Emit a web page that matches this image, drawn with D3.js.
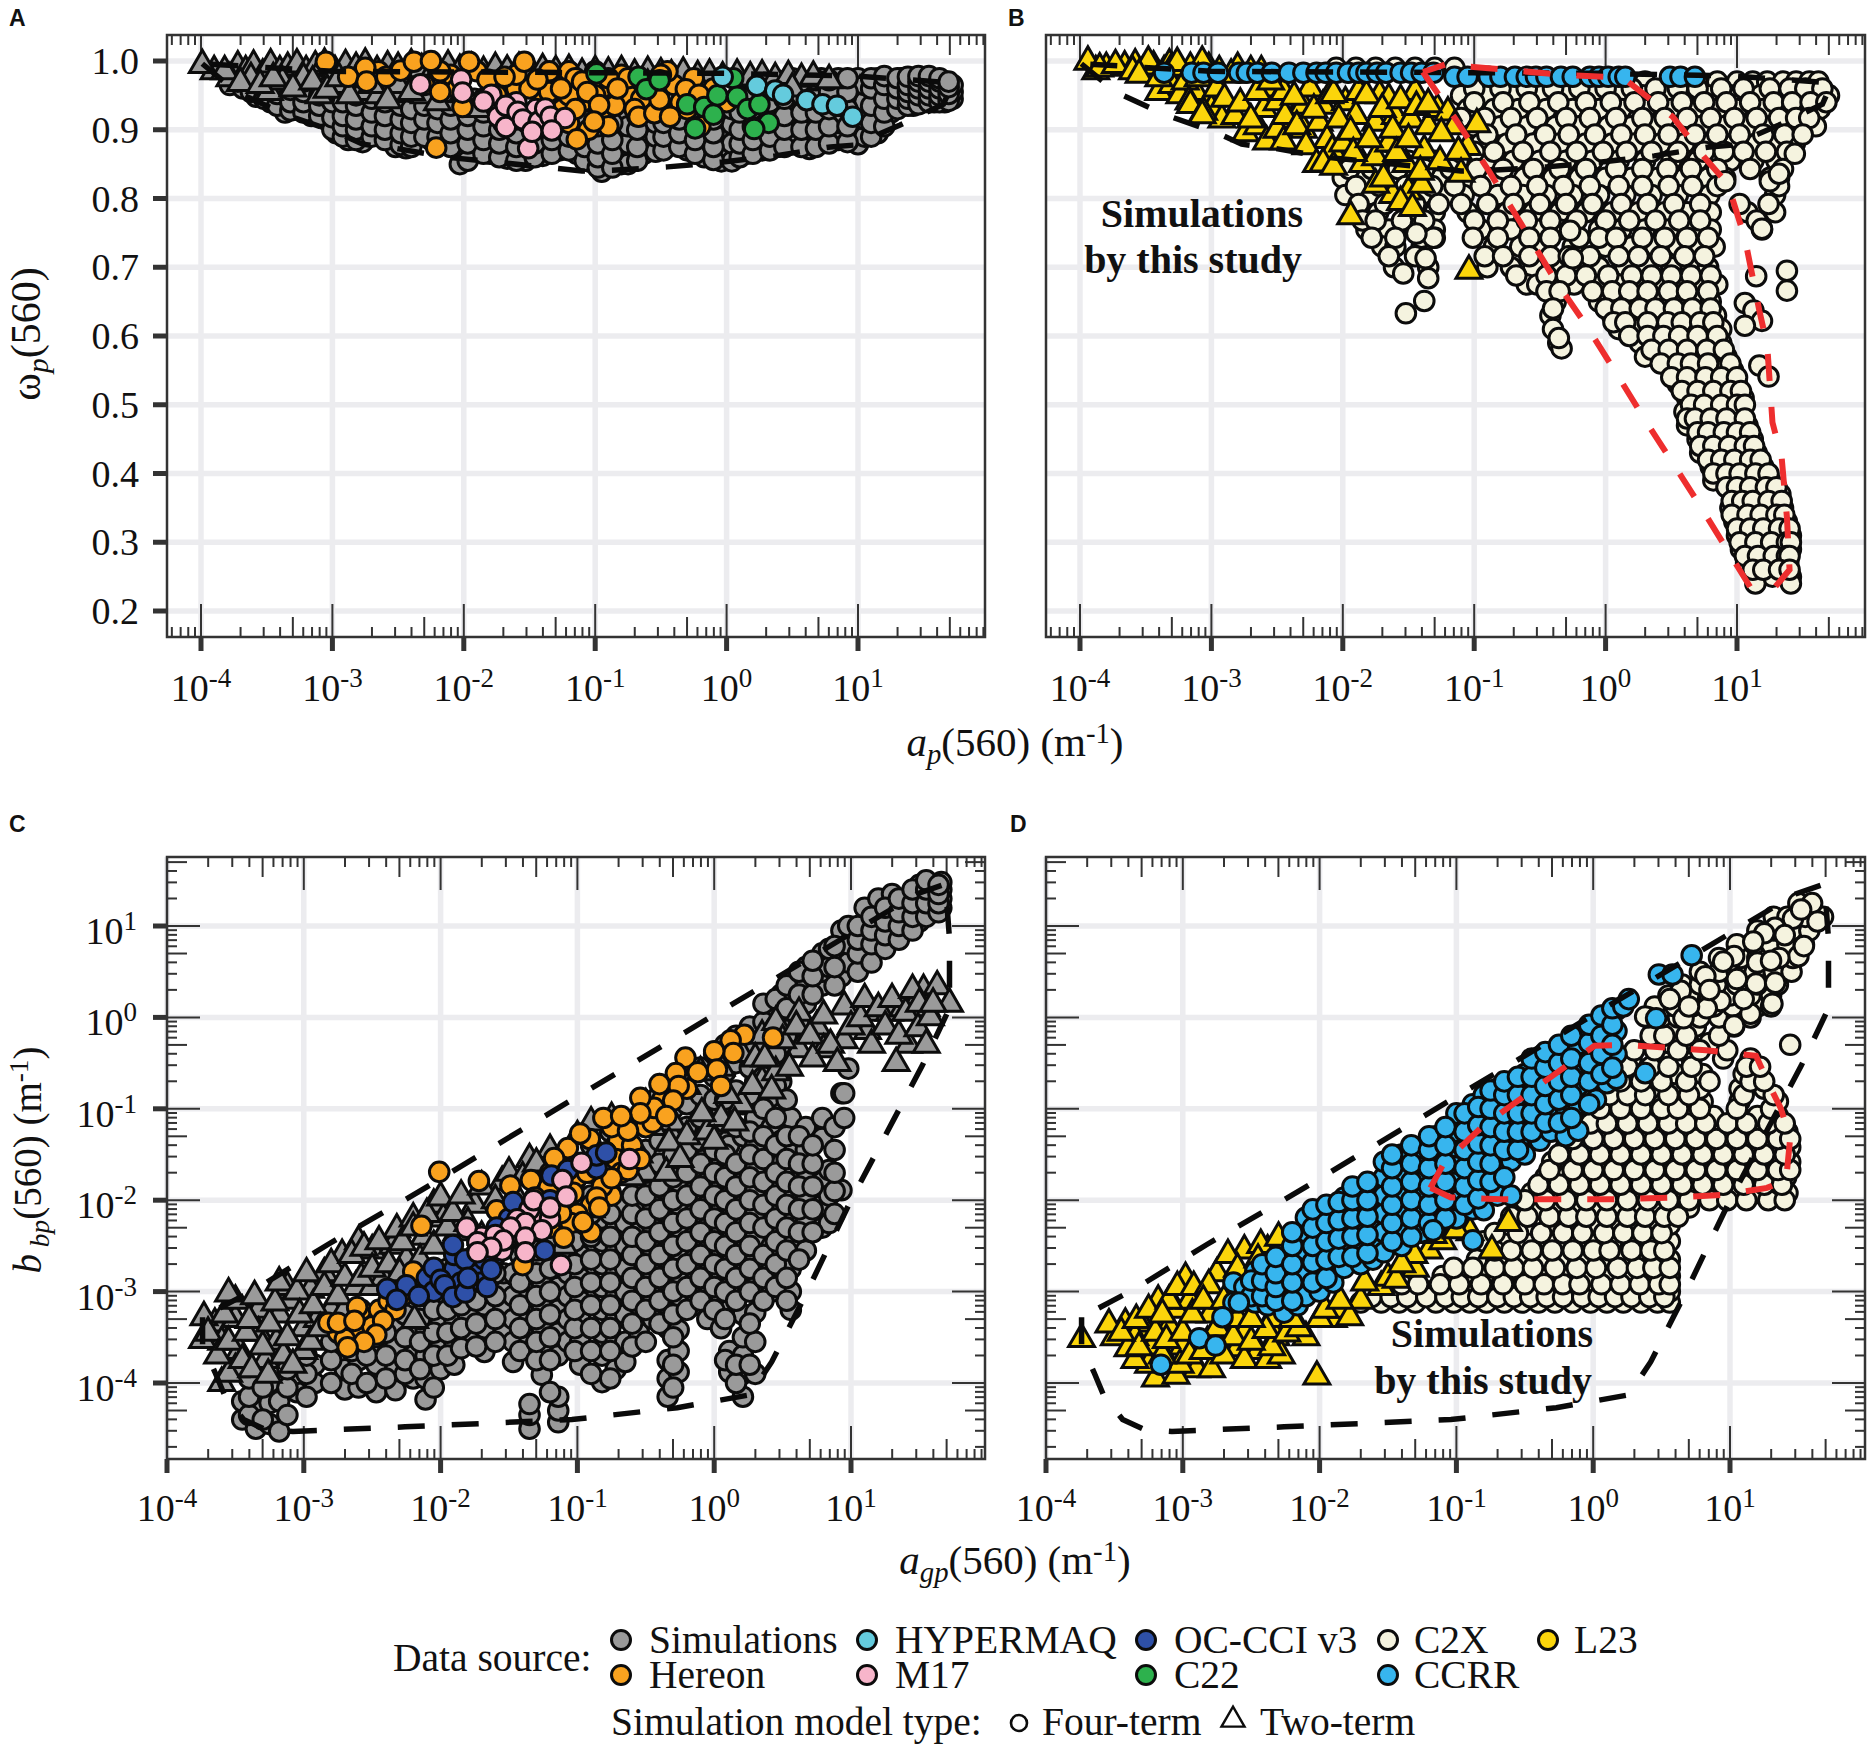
<!DOCTYPE html>
<html><head><meta charset="utf-8">
<script src="https://cdnjs.cloudflare.com/ajax/libs/d3/7.8.5/d3.min.js"></script>
<style>html,body{margin:0;padding:0;background:#fff}svg{display:block}text{font-family:"Liberation Serif",serif;fill:#111}</style>
</head><body><svg id="c" width="1872" height="1752"></svg>
<script>
// values: log10(x) first; y is linear in A/B, log10 in C/D
const col=a=>a.flatMap(([x,ys])=>ys.map(y=>[x,y]));
const row=a=>a.flatMap(([y,xs])=>xs.map(x=>[x,y]));

const aGray=col([[-3.78,[.975,.965]],[-3.68,[.96,.978]],[-3.58,[.948,.968,.982]],[-3.47,[.94,.96,.975]],[-3.36,[.925,.945,.965,.98]],[-3.27,[.93,.95,.972]],[-3.16,[.92,.94,.96,.98]],[-3.05,[.915,.935,.955,.975]],[-2.97,[.895,.91,.93,.95,.97]],[-2.88,[.885,.905,.925,.945,.965]],[-2.77,[.882,.9,.93,.955]],[-2.66,[.895,.915,.94,.965]],[-2.52,[.875,.89,.91,.935,.96]],[-2.44,[.873,.895,.925,.95]],[-2.36,[.9,.915,.94,.965]],[-2.25,[.885,.905,.93,.955]],[-2.16,[.89,.91,.94,.965]],[-2.03,[.85,.875,.9,.925,.95]],[-1.92,[.875,.895,.92,.945]],[-1.8,[.865,.885,.91,.935]],[-1.67,[.858,.88,.905,.93]],[-1.53,[.855,.87,.895,.92]],[-1.4,[.862,.885,.91]],[-1.27,[.87,.89,.915]],[-1.14,[.865,.885,.905]],[-1.03,[.853,.875,.9]],[-.95,[.839,.87,.89,.915]],[-.8,[.85,.875,.897,.92]],[-.75,[.85,.88,.905]],[-.63,[.865,.897,.92]],[-.54,[.868,.89,.91]],[-.41,[.883,.9]],[-.3,[.87,.89,.91,.93]],[-.17,[.86,.885,.905,.92]],[-.04,[.854,.875,.9,.925]],[.04,[.854,.88,.908,.93]],[.15,[.865,.89,.915,.94,.96]],[.27,[.87,.895,.92,.945,.965]],[.38,[.875,.9,.925,.95,.972]],[.5,[.88,.905,.93,.955,.975]],[.63,[.872,.895,.92,.945,.97]],[.72,[.88,.905,.93,.955,.975]],[.85,[.885,.91,.935,.96,.975]],[1,[.879,.905,.93,.955,.975]],[1.05,[.89,.915,.941,.965]],[1.15,[.895,.908,.93,.955,.975]],[1.25,[.925,.94,.955,.97]],[1.33,[.935,.95,.965,.975]],[1.42,[.935,.945,.96,.975]],[1.5,[.94,.95,.965,.975]],[1.58,[.94,.955,.97]],[1.66,[.94,.95,.96,.97]],[1.72,[.945,.955,.965]]]);
const aGrayMore=col([[-3.72,[.982,.97]],[-3.62,[.955,.97]],[-3.52,[.945,.96,.978]],[-3.42,[.935,.952,.968]],[-3.32,[.928,.94,.958,.975]],[-3.22,[.925,.94,.955,.97]],[-3.1,[.92,.935,.95,.965]],[-3,[.9,.918,.94,.96]],[-2.92,[.89,.905,.92,.94,.96]],[-2.82,[.885,.9,.915,.935,.95]],[-2.7,[.89,.905,.925,.945]],[-2.6,[.885,.9,.92,.94,.955]],[-2.48,[.878,.895,.915,.935,.955]],[-2.4,[.875,.89,.91,.93,.955]],[-2.3,[.89,.915,.935,.955]],[-2.2,[.89,.91,.93,.95]],[-2.1,[.875,.895,.915,.935,.955]],[-1.97,[.855,.88,.9,.92,.94]],[-1.85,[.865,.885,.905,.925,.945]],[-1.73,[.86,.88,.9,.92,.94]],[-1.6,[.855,.875,.895,.915,.935]],[-1.46,[.86,.88,.9,.92]],[-1.33,[.865,.885,.905,.925]],[-1.2,[.87,.89,.91]],[-1.08,[.855,.875,.895,.915]],[-.98,[.845,.86,.88,.905]],[-.87,[.845,.865,.885,.91]],[-.68,[.855,.875,.9,.92]],[-.48,[.87,.89,.91,.93]],[-.36,[.875,.895,.915,.935]],[-.24,[.865,.885,.905,.925]],[-.1,[.856,.875,.895,.915,.935]],[.1,[.86,.88,.9,.925,.95]],[.2,[.865,.885,.905,.93,.955]],[.33,[.87,.89,.915,.94,.96]],[.44,[.875,.9,.92,.945,.965]],[.57,[.875,.9,.925,.95,.97]],[.68,[.875,.9,.925,.95,.972]],[.78,[.88,.905,.93,.955,.972]],[.92,[.882,.905,.93,.955,.975]],[1.1,[.89,.91,.935,.96,.975]],[1.2,[.905,.925,.945,.965,.978]],[1.3,[.93,.945,.96,.975]],[1.38,[.935,.945,.955,.965,.977]],[1.46,[.937,.95,.96,.97,.978]],[1.54,[.94,.95,.96,.97,.978]],[1.62,[.94,.95,.96,.97,.975]],[1.69,[.942,.952,.962,.97]]]);
const aTri=[[-3.72,.992],[-3.66,.985],[-3.6,.993],[-3.53,.98],[-3.47,.995],[-3.4,.985],[-3.34,.99],[-3.27,.995],[-3.2,.985],[-3.13,.992],[-3.06,.996],[-2.98,.985],[-2.9,.994],[-2.82,.99],[-2.75,.996],[-2.66,.985],[-2.58,.992],[-2.5,.99],[-2.4,.995],[-2.32,.988],[-2.22,.99],[-2.12,.993],[-2.03,.987],[-1.94,.99],[-1.85,.984],[-1.76,.99],[-1.67,.986],[-1.58,.99],[-1.48,.983],[-1.4,.988],[-1.3,.985],[-1.2,.987],[-1.1,.981],[-1,.985],[-.9,.983],[-.8,.985],[-.7,.98],[-.6,.984],[-.5,.982],[-.42,.979],[-.33,.983],[-.22,.978],[-.13,.98],[-.03,.976],[.08,.98],[.18,.976],[.27,.979],[.37,.975],[.47,.978],[.57,.974],[.66,.977],[.78,.972],[-3.9,.985],[-3.78,.975],[-3.62,.975],[-3.48,.955],[-3.38,.97],[-3.22,.975],[-3.1,.95],[-2.98,.965],[-2.78,.955],[-2.65,.95],[-2.5,.965],[-2.3,.95],[-2.1,.965],[-1.8,.96],[-1.6,.965],[-1.4,.96],[-1,.96],[-.6,.965],[-.2,.96],[.2,.955],[.5,.96],[-3.99,.994],[-3.82,.985],[-3.7,.968],[-3.55,.965],[-3.45,.975],[-3.3,.96],[-3.15,.97],[-3.04,.958],[-2.95,.975],[-2.87,.95],[-2.7,.965],[-2.58,.943],[-2.4,.955],[-2.2,.94],[-2,.955],[-1.9,.93]];
const aOrange=[[-2.21,.874],[-3.05,.999],[-2.65,.985],[-2.3,.965],[-2.1,.98],[-1.9,.985],[-1.35,.985],[-1.2,.985],[-1,.985],[-.8,.98],[-1.3,.935],[-1.2,.91],[-1.1,.94],[-.9,.93],[-.95,.96],[-1.15,.975],[-.75,.95],[-.6,.96],[-.4,.965],[-.35,.94],[-.25,.975],[-1.75,.95],[-1.6,.96],[-.1,.96],[0,.94],[-1.4,.94],[-1.25,.93],[-1.05,.9],[-.9,.905],[-.15,.93],[-1.5,.96],[-1.35,.955],[-1.2,.95],[-1.1,.97],[-1,.95],[-.9,.975],[-.75,.975],[-.65,.945],[-.45,.985],[-.7,.93],[-.5,.98],[-.3,.93],[-.2,.905],[-1.15,.93],[-.85,.935],[-1.6,.98],[-2.05,.96],[-2.18,.985],[-2.75,.99],[-2.88,.977],[-2.74,.97],[-2.59,.977],[-2.48,.986],[-2.38,.999],[-2.25,1],[-2.18,.955],[-1.96,.999],[-2.01,.933],[-1.82,.973],[-1.69,.977],[-1.54,.999],[-1.44,.973],[-1.26,.96],[-1.14,.886],[-1.06,.955],[-.97,.936],[-.83,.96],[-1.01,.912],[-.67,.919],[-.55,.924],[-.43,.919],[-.51,.944],[-.31,.959],[-.21,.951]];
const aPink=[[-1.6,.94],[-1.7,.91],[-1.45,.93],[-1.52,.91],[-2.33,.966],[-2.02,.973],[-2.01,.954],[-1.79,.951],[-1.85,.941],[-1.74,.919],[-1.68,.935],[-1.68,.904],[-1.59,.926],[-1.55,.915],[-1.43,.912],[-1.51,.873],[-1.48,.897],[-1.38,.931],[-1.34,.919],[-1.23,.917],[-1.33,.899]];
const aGreen=[[-.99,.982],[-.67,.977],[-.61,.959],[-.51,.972],[-.3,.937],[-.17,.933],[-.24,.902],[-.1,.922],[-.07,.95],[.05,.975],[.08,.948],[.16,.93],[.32,.91],[.25,.937],[.21,.901]];
const aCyan=[[-.03,.977],[.23,.964],[.37,.957],[.43,.951],[.61,.943],[.73,.937],[.84,.935],[.96,.919]];
const abLower=[[-3.99,.996],[-3.73,.955],[-3.34,.921],[-2.95,.895],[-2.77,.879],[-2.52,.873],[-2.13,.86],[-1.71,.852],[-1.1,.84],[-.87,.841],[-.45,.846],[-.03,.853],[.37,.862],[.79,.875],[.99,.878],[1.14,.892],[1.32,.907],[1.65,.937],[1.72,.968],[1,.978],[0,.982],[-3,.985],[-3.99,.996]];

const bCream=row([[.99,[-2.05,-1.9,-1.75,-1.6,-1.45,-1.3,-1.15]],[.97,[-.9,-.7,-.5,-.3,-.1,.1,.3,.5,.7,.85,1,1.12,1.23,1.35,1.45,1.55,1.62]],[.95,[-1.1,-.9,-.7,-.5,-.3,-.1,.1,.28,.45,.6,.78,.95,1.02,1.18,1.32,1.46,1.58,1.7]],[.93,[-1.05,-.85,-.66,-.45,-.25,-.05,.12,.3,.5,.68,.85,1,1.2,1.34,1.5,1.63]],[.905,[-1,-.8,-.6,-.38,-.2,.02,.2,.38,.55,.72,.9,1.08,1.25,1.4,1.48,1.6]],[.88,[-.95,-.75,-.55,-.35,-.15,.05,.22,.42,.6,.8,.98,1.15,1.3,1.44]],[.855,[-1.9,-1.7,-1.5,-1.3,-1.12,-.9,-.7,-.5,-.3,-.1,.1,.3,.5,.7,.95,1.125,1.3]],[.83,[-2,-1.85,-1.65,-1.45,-1.25,-1.05,-.85,-.62,-.4,-.2,0,.2,.4,.6,.78,.91,1.25,1.32]],[.805,[-1.98,-1.8,-1.6,-1.4,-1.22,-1.08,-.82,-.63,-.45,-.25,-.05,.15,.35,.55,.79,1.29]],[.78,[-1.9,-1.73,-1.5,-1.3,-1.05,-.75,-.55,-.35,-.15,.05,.25,.45,.62,.8,1.08,1.29]],[.755,[-1.82,-1.65,-1.45,-1.3,-.95,-.72,-.53,-.35,-.27,-.05,.12,.3,.48,.65,.8,1.19]],[.73,[-1.7,-1.6,-1.4,-.85,-.65,-.5,-.25,0,.2,.38,.55,.7,.83]],[.7,[-1.61,-1.35,-.9,-.72,-.55,-.38,-.23,-.05,.15,.32,.5,.65,.78]],[.675,[-.6,-.52,-.38,-.24,-.03,.1,.28,.42,.58,.72,.85]],[.65,[-.38,-.05,.08,.25,.4,.55,.7,.8]],[.63,[-.42,.05,.2,.3,.45,.6,.72,.84]],[.61,[-.4,.1,.25,.4,.5,.65,.78,.88]],[.59,[-.36,.26,.38,.5,.62,.75,.88]],[.57,[.3,.45,.58,.7,.82,.92]],[.55,[.5,.6,.72,.85,.97]],[.53,[.55,.68,.8,.9,1]],[.51,[.62,.72,.84,.95,1.05]],[.49,[.6,.7,.8,.92,1.03]],[.47,[.62,.74,.86,.98,1.08]],[.45,[.7,.8,.92,1.02,1.12]],[.43,[.72,.85,.95,1.05,1.15]],[.41,[.8,.9,1,1.1,1.2]],[.39,[.82,.93,1.03,1.13,1.25]],[.37,[.98,1.05,1.18,1.28,1.33]],[.35,[.95,1.06,1.15,1.27,1.35]],[.33,[.98,1.08,1.2,1.3,1.38]],[.31,[1,1.1,1.22,1.34,1.41]],[.29,[1.03,1.12,1.24,1.36,1.41]],[.27,[1.07,1.18,1.3,1.39]],[.25,[1.14,1.27,1.41]],[.24,[1.14,1.41]]]);
const bCreamMore=row([[.96,[-1,-.8,-.6,-.4,-.2,0,.2,.38,.55,.7,.88,1.05,1.25,1.4,1.52,1.65]],[.94,[-1,-.78,-.58,-.36,-.15,.04,.22,.4,.58,.75,.92,1.1,1.28,1.42,1.56,1.68]],[.917,[-1.1,-.92,-.72,-.52,-.3,-.12,.08,.28,.45,.62,.8,.98,1.15,1.32,1.45,1.55]],[.893,[-.9,-.68,-.46,-.28,-.08,.12,.3,.48,.68,.85,1.02,1.2,1.36,1.5]],[.868,[-1,-.85,-.63,-.42,-.22,-.02,.16,.35,.55,.75,.9,1.05,1.22,1.38]],[.843,[-1.95,-1.78,-1.58,-1.38,-1.18,-.98,-.78,-.55,-.35,-.15,.08,.28,.47,.65,.85,1.1,1.35]],[.818,[-1.9,-1.72,-1.52,-1.32,-1.15,-.95,-.72,-.52,-.32,-.12,.1,.28,.48,.66,.85,1.32]],[.792,[-1.88,-1.68,-1.45,-1.27,-1.1,-.9,-.7,-.5,-.3,-.1,.12,.32,.52,.72,1.02,1.24]],[.768,[-1.85,-1.75,-1.55,-1.38,-1,-.82,-.6,-.42,-.22,0,.18,.38,.56,.72,1.15]],[.743,[-1.78,-1.6,-1.4,-1.3,-1.01,-.82,-.58,-.42,-.2,-.05,.08,.28,.45,.62,.78]],[.716,[-1.65,-1.45,-.92,-.78,-.58,-.42,-.28,-.12,.1,.25,.42,.6,.75]],[.688,[-.68,-.45,-.3,-.15,.02,.2,.35,.5,.65,.8]],[.665,[-.45,-.35,-.1,.05,.18,.32,.48,.62,.78]],[.64,[-.4,0,.12,.26,.38,.52,.66,.8]],[.62,[.06,.15,.32,.47,.58,.72,.82]],[.6,[.18,.32,.44,.56,.7,.85]],[.58,[.35,.48,.62,.77,.9]],[.56,[.42,.55,.65,.78,.95]],[.54,[.5,.62,.76,.88,1]],[.52,[.58,.7,.82,.95,1.03]],[.5,[.65,.75,.88,1,1.06]],[.48,[.62,.68,.8,.92,1.06]],[.46,[.7,.78,.9,1,1.1]],[.44,[.72,.82,.94,1.06,1.13]],[.42,[.78,.88,.98,1.1,1.18]],[.4,[.82,.92,1.02,1.14,1.24]],[.38,[.92,1,1.1,1.22,1.3]],[.36,[.96,1.04,1.12,1.24,1.34]],[.34,[.96,1.08,1.18,1.3,1.36]],[.32,[1,1.1,1.2,1.32,1.4]],[.3,[1.02,1.14,1.26,1.38,1.41]],[.28,[1.06,1.16,1.28,1.38,1.4]],[.26,[1.12,1.2,1.32,1.4]]]);
const bCreamLone=[[-1.52,.633],[-1.38,.651],[-1.35,.684],[-1.54,.691],[-1.37,.713],[-1.31,.743],[-1.44,.749],[-.335,.582],[-.356,.597],[-.27,.753],[-.25,.713],[1.38,.695],[1.38,.666],[1.146,.687],[1.06,.648],[1.125,.637],[1.19,.622],[1.06,.615],[1.17,.557],[1.24,.541],[.91,.825],[1.19,.756],[1.25,.825],[1.32,.836],[1.44,.865]];
const bYellow=[[-3.88,.985],[-3.8,.99],[-3.66,.992],[-3.58,.995],[-3.52,.985],[-3.44,.992],[-3.36,.985],[-3.32,.995],[-3.24,.985],[-3.16,.99],[-3.02,.99],[-2.94,.985],[-2.8,.99],[-2.62,.985],[-3.4,.955],[-3.3,.965],[-3.24,.95],[-3.12,.955],[-3,.945],[-3,.93],[-2.92,.915],[-2.82,.92],[-2.74,.895],[-2.65,.905],[-2.6,.93],[-2.58,.96],[-2.5,.94],[-2.45,.955],[-2.38,.915],[-2.3,.935],[-2.3,.9],[-2.25,.96],[-2.18,.91],[-2.12,.885],[-2.15,.935],[-2.08,.87],[-1.98,.94],[-1.9,.92],[-1.88,.955],[-1.85,.85],[-1.75,.91],[-1.75,.86],[-1.72,.95],[-1.65,.88],[-1.65,.945],[-1.6,.92],[-1.52,.85],[-1.48,.915],[-1.45,.955],[-1.38,.87],[-1.35,.905],[-1.28,.93],[-1.2,.925],[-1.15,.905],[-1.05,.875],[-1.5,.81],[-1.62,.805],[-1.75,.82],[-1.4,.82],[-3.94,.999],[-3.85,.989],[-3.73,.994],[-3.6,.985],[-3.48,.999],[-3.55,.98],[-3.4,.975],[-3.3,.99],[-3.26,.997],[-3.2,.97],[-3.07,.999],[-3.1,.975],[-2.96,.96],[-2.85,.98],[-2.7,.985],[-3.17,.941],[-3.16,.936],[-3.06,.926],[-3.07,.921],[-2.9,.945],[-2.78,.938],[-2.65,.955],[-2.7,.915],[-2.55,.97],[-2.58,.883],[-2.5,.9],[-2.45,.883],[-2.44,.92],[-2.37,.948],[-2.35,.905],[-2.28,.876],[-2.22,.929],[-2.2,.85],[-2.15,.851],[-2.1,.95],[-2.07,.846],[-2.07,.952],[-2.03,.915],[-2,.88],[-1.94,.897],[-1.92,.866],[-1.82,.95],[-1.8,.886],[-1.7,.93],[-1.69,.829],[-1.62,.9],[-1.59,.866],[-1.56,.943],[-1.56,.795],[-1.5,.886],[-1.47,.786],[-1.44,.933],[-1.41,.839],[-1.35,.937],[-1.26,.854],[-1.25,.895],[-1.12,.868],[-1.1,.836],[-.98,.908],[-1.94,.774],[-1.04,.695]];
const bBlue=row([[.983,[-3.36,-3.15,-3.06,-2.95,-2.79,-2.73,-2.65,-2.54,-2.41,-2.3,-2.2,-2.13,-2.05,-1.96,-1.88,-1.82,-1.74,-1.67,-1.56,-1.48,-1.4,-1.31]],[.977,[-1.15,-1.05,-.89,-.8,-.69,-.6,-.53,-.45,-.34,-.25,-.12,-.05,.02,.1,.15,.49,.57,.68]]]);
const bRed=[[-1.39,.984],[-1.14,.915],[-.885,.839],[-.61,.753],[-.38,.68],[-.145,.615],[.09,.543],[.3,.478],[.68,.365],[.89,.3],[1.1,.235],[1.29,.235],[1.4,.26],[1.38,.336],[1.34,.423],[1.27,.474],[1.23,.586],[1.17,.637],[1.06,.742],[.93,.821],[.765,.857],[.51,.919],[.17,.97],[0,.977],[-.335,.98],[-.8,.988],[-1.22,.995],[-1.39,.984]];

const cGray=col([[-3.45,[-4.4,-4.2]],[-3.35,[-4.5,-4.3,-4.1]],[-3.25,[-4.45,-4.22,-4]],[-3.18,[-4.53,-4.2]],[-3.05,[-4.1,-3.9]],[-2.92,[-4,-3.8]],[-2.7,[-4.07,-3.85]],[-2.6,[-4.05,-3.75,-3.6]],[-2.47,[-4.1,-3.8,-3.5]],[-2.33,[-4.08,-3.85,-3.6,-3.35]],[-2.2,[-3.95,-3.7,-3.45]],[-2.11,[-4.18,-3.95,-3.7,-3.4]],[-2,[-3.85,-3.6,-3.3,-3.1]],[-1.9,[-3.8,-3.55,-3.3,-3.05]],[-1.8,[-3.5,-3.25,-3]],[-1.68,[-3.66,-3.4,-3.15,-2.95]],[-1.54,[-3.47,-3.2,-3,-2.8]],[-1.47,[-3.77,-3.55,-3.3,-3.05,-2.8]],[-1.35,[-4.5,-4.35,-4.23,-3.5,-3.25,-3,-2.75]],[-1.26,[-3.91,-3.66,-3.4,-3.15,-2.9,-2.7]],[-1.14,[-4.43,-4.3,-4.15,-3.7,-3.45,-3.2,-2.95,-2.7]],[-1.07,[-3.55,-3.3,-3.05,-2.8,-2.55]],[-.98,[-3.8,-3.55,-3.3,-3.1,-2.85,-2.6,-2.35]],[-.82,[-3.99,-3.7,-3.45,-3.2,-2.95,-2.7,-2.45,-2.2]],[-.72,[-3.85,-3.55,-3.3,-3.05,-2.8,-2.55,-2.3]],[-.65,[-3.77,-3.55,-3.25,-3,-2.75,-2.5,-2.25,-2.05]],[-.55,[-3.45,-3.15,-2.85,-2.6,-2.35,-2.1,-1.9]],[-.45,[-3.3,-3.05,-2.8,-2.55,-2.3,-2.05,-1.8]],[-.34,[-4.15,-3.95,-3.75,-3.4,-3.15,-2.9,-2.65,-2.4,-2.15,-1.9,-1.65]],[-.26,[-3.88,-3.65,-3.42,-3.05,-2.8,-2.55,-2.3,-2.05,-1.8,-1.55]],[-.15,[-3.15,-2.9,-2.65,-2.4,-2.15,-1.9,-1.65,-1.4]],[-.05,[-3.3,-3.05,-2.8,-2.55,-2.3,-2.05,-1.8,-1.5,-1.2]],[.05,[-3.4,-3.1,-2.85,-2.6,-2.35,-2.1,-1.85,-1.55,-1.25,-1]],[.11,[-3.88,-3.65,-3.2,-2.95,-2.7,-2.45,-2.2,-1.95,-1.7,-1.4,-1.1]],[.21,[-4.15,-3.9,-3.7,-3.5,-3.25,-2.8,-2.55,-2.3,-2.05,-1.8,-1.3,-.95]],[.3,[-3.9,-3.55,-3.23,-2.95,-2.65,-2.4,-2.15,-1.9,-1.65,-1.4,-1.1,-.7,-.3]],[.42,[-3,-2.75,-2.5,-2.25,-2,-1.75,-1.5,-1.2,-.9,-.5,-.2,.1]],[.49,[-2.9,-2.6,-2.35,-2.1,-1.85,-1.6,-1.35,-1.05,-.7,-.3,0,.25]],[.56,[-3.2,-3,-2.75,-2.45,-2.2,-1.95,-1.67,-1.4,-1.1,-.1,.2,.4]],[.67,[-2.55,-2.25,-2,-1.67,-1.45,-1.2,.15,.35,.55]],[.79,[-2.3,-2.05,-1.8,-1.32,-1.1,.35,.5,.7]],[.84,[-2.25,-1.95,-1.67,.55,.75]],[.93,[-1.89,-.83,.45,.65,.8,.95]],[.98,[-.56,.6,.8,1]],[1.1,[.7,.85,1.05,1.2]],[1.2,[.8,.95,1.1,1.3]],[1.3,[.9,1.05,1.2,1.35]],[1.4,[1,1.15,1.3]],[1.5,[1.05,1.2,1.35,1.45]],[1.6,[1.15,1.3,1.42]],[1.66,[1.2,1.3,1.4,1.48]]]);
const cGrayMore=col([[-3.4,[-4.35,-4.15,-3.95]],[-3.3,[-4.4,-4.05]],[-3.12,[-4.35,-4.05,-3.85]],[-2.98,[-4.15,-3.9,-3.7]],[-2.8,[-4,-3.75,-3.55]],[-2.65,[-3.9,-3.65,-3.45]],[-2.54,[-4,-3.7,-3.4]],[-2.4,[-3.95,-3.7,-3.45,-3.25]],[-2.26,[-3.9,-3.75,-3.5,-3.25]],[-2.15,[-3.85,-3.55,-3.3,-3.05]],[-2.05,[-4.05,-3.7,-3.45,-3.2,-2.95]],[-1.95,[-3.7,-3.45,-3.2,-2.95,-2.75]],[-1.85,[-3.62,-3.4,-3.15,-2.9,-2.65]],[-1.74,[-3.6,-3.35,-3.1,-2.85,-2.65]],[-1.6,[-3.55,-3.3,-3.05,-2.8,-2.6]],[-1.42,[-3.65,-3.4,-3.15,-2.9,-2.6,-2.4]],[-1.3,[-3.75,-3.55,-3.3,-3.05,-2.8,-2.55,-2.3,-2.1]],[-1.2,[-4.1,-3.75,-3.5,-3.25,-3,-2.75,-2.5,-2.3,-2.05]],[-1.02,[-3.65,-3.4,-3.2,-2.95,-2.7,-2.45,-2.2,-2,-1.8]],[-.9,[-3.9,-3.65,-3.4,-3.15,-2.9,-2.65,-2.4,-2.15,-1.95,-1.7,-1.4]],[-.76,[-3.95,-3.65,-3.4,-3.15,-2.9,-2.65,-2.4,-2.15,-1.9,-1.6,-1.25]],[-.6,[-3.6,-3.35,-3.1,-2.85,-2.6,-2.4,-2.15,-1.95,-1.7,-1.45,-1.15]],[-.5,[-3.55,-3.2,-2.95,-2.7,-2.45,-2.2,-1.95,-1.7,-1.45,-1.2,-.95]],[-.4,[-3.35,-3.1,-2.85,-2.6,-2.35,-2.1,-1.85,-1.6,-1.35,-1.1,-.85]],[-.3,[-4.05,-3.8,-3.5,-3.25,-3,-2.75,-2.5,-2.25,-2,-1.75,-1.5,-1.25,-1,-.75]],[-.2,[-3.2,-2.95,-2.7,-2.45,-2.2,-1.95,-1.7,-1.45,-1.2,-.95,-.65]],[-.1,[-3.1,-2.85,-2.6,-2.35,-2.1,-1.85,-1.6,-1.35,-1.1,-.85,-.55]],[0,[-3.2,-2.95,-2.7,-2.45,-2.2,-1.95,-1.7,-1.45,-1.2,-.9,-.65,-.4]],[.08,[-3.75,-3.3,-3,-2.75,-2.5,-2.25,-2,-1.75,-1.5,-1.15,-.9,-.6,-.3]],[.16,[-4,-3.8,-3.1,-2.85,-2.6,-2.35,-2.1,-1.85,-1.6,-1.2,-.8,-.5,-.2]],[.26,[-3.8,-3.35,-3,-2.75,-2.5,-2.25,-2,-1.75,-1.5,-1.25,-.85,-.55,-.1]],[.36,[-3.1,-2.85,-2.6,-2.3,-2.05,-1.8,-1.55,-1.3,-1,-.65,-.35,-.05,.15]],[.45,[-2.95,-2.7,-2.45,-2.2,-1.95,-1.7,-1.4,-1.1,-.75,-.4,-.1,.2]],[.53,[-3.1,-2.85,-2.55,-2.3,-2.05,-1.8,-1.55,-1.3,-.9,-.2,.1,.35]],[.62,[-2.65,-2.35,-2.1,-1.85,-1.6,-1.3,-.05,.25,.5]],[.72,[-2.35,-2.1,-1.85,-1.6,-1.4,.25,.45,.62]],[.88,[-2.15,-1.9,-1.7,-1.45,-1.2,.35,.55,.78]],[.95,[-1.1,-.83]],[1.05,[.5,.7,.85,1]],[1.15,[.6,.8,.95,1.1]],[1.25,[.75,.9,1.05,1.2]],[1.35,[.85,1,1.15,1.3]],[1.45,[.95,1.1,1.25,1.4]],[1.55,[1.1,1.25,1.4,1.5]],[1.64,[1.15,1.25,1.35,1.45]]]);
const cTri=[[-3.65,-3.35],[-3.6,-3.55],[-3.5,-3.3],[-3.47,-3.65],[-3.5,-3.85],[-3.33,-3.2],[-3.33,-3.45],[-3.28,-3.75],[-3.2,-3.55],[-3.18,-3.25],[-3.1,-3.1],[-3.12,-2.95],[-3,-3.65],[-3,-3.4],[-2.95,-2.98],[-2.9,-3.3],[-2.85,-2.8],[-2.8,-3.2],[-2.72,-2.6],[-2.7,-3.2],[-2.62,-2.95],[-2.6,-2.45],[-2.5,-2.55],[-2.5,-2.95],[-2.42,-2.85],[-2.35,-2.5],[-2.32,-2.32],[-2.25,-2.65],[-2.25,-2.95],[-2.2,-2.2],[-2.12,-2.4],[-2.1,-2.85],[-2.05,-2.05],[-1.98,-2.2],[-1.88,-2.35],[-1.85,-2.7],[-1.75,-2.05],[-1.7,-2.4],[-1.55,-1.8],[-1.55,-2.2],[-1.45,-1.95],[-1.35,-1.55],[-1.2,-1.45],[-1.2,-1.75],[-1.05,-1.6],[-1,-1.3],[-.9,-1.15],[-.85,-1.5],[-.75,-1.1],[-.7,-1.55],[-.5,-.95],[-.5,-1.7],[-.4,-.8],[-.3,-1.15],[-.2,-.75],[-.2,-1.3],[-.1,-.6],[-.05,-1.25],[.05,-.55],[.05,-1.1],[.2,-.4],[.2,-.95],[.35,-.2],[.35,-.7],[.45,-.6],[.45,-.05],[.62,.05],[.62,-.35],[.75,-.1],[.8,-.35],[.95,.12],[.95,-.25],[1.12,-.15],[1.18,.05],[1.28,.05],[1.38,.1],[1.42,-.3],[1.53,.3],[1.55,.1],[1.45,.1],[-3.73,-3.28],[-3.74,-3.53],[-3.7,-3.45],[-3.6,-4],[-3.55,-3.9],[-3.63,-3.7],[-3.55,-3.55],[-3.58,-3.25],[-3.5,-3.1],[-3.55,-3.02],[-3.45,-3.75],[-3.42,-3.45],[-3.4,-3.31],[-3.36,-3.05],[-3.38,-3.85],[-3.3,-3.6],[-3.26,-3.91],[-3.25,-3.35],[-3.21,-3.12],[-3.18,-2.9],[-3.15,-3.7],[-3.12,-3.5],[-3.08,-3.8],[-3.05,-3],[-3.03,-3.25],[-2.98,-2.8],[-2.95,-3.55],[-2.93,-3.15],[-2.85,-2.95],[-2.88,-3.4],[-2.8,-2.7],[-2.75,-3.05],[-2.7,-2.85],[-2.65,-2.6],[-2.56,-2.52],[-2.58,-2.85],[-2.5,-2.75],[-2.45,-2.45],[-2.38,-2.7],[-2.28,-2.46],[-2.3,-2.8],[-2.19,-3.31],[-2.2,-2.3],[-2.15,-2.65],[-2.1,-2.15],[-2.05,-2.5],[-2,-1.97],[-1.95,-2.3],[-1.91,-2.14],[-1.85,-1.95],[-1.8,-2.25],[-1.7,-1.85],[-1.6,-2],[-1.5,-1.7],[-1.4,-1.75],[-1.3,-1.6],[-1.25,-1.95],[-1.1,-2.5],[-.9,-2.1],[-.8,-1.6],[-.7,-1.3],[-.6,-1.75],[-.55,-1.5],[-.45,-1.2],[-.35,-1.7],[-.33,-1.37],[-.25,-1.55],[-.09,-1.05],[0,-1.35],[.1,-.85],[.15,-1.15],[.28,-.75],[.3,-.45],[.37,-.45],[.42,-.8],[.5,-.25],[.55,-.55],[.6,-.1],[.7,-.2],[.72,-.45],[.8,.02],[.85,-.3],[.9,-.5],[1,-.1],[1.07,-.01],[1.1,.2],[1.15,-.3],[1.2,.1],[1.25,-.1],[1.33,-.5],[1.3,.2],[1.35,-.2],[1.4,.05],[1.45,.3],[1.49,-.12],[1.5,.15],[1.55,-.3],[1.58,0],[1.63,.34],[1.72,.15],[1.6,.15]];
const cOrange=[[-.7,-1.35],[-.75,-1.2],[-.85,-1.5],[-.72,-1.55],[-.9,-1.6],[-1,-1.75],[-1.1,-1.6],[-1.2,-1.7],[-.68,-1.7],[-.75,-1.95],[-.9,-2.05],[-1,-2.15],[-1.2,-2.3],[-1.05,-2.25],[-.9,-2.35],[-.6,-1.4],[-.5,-1.2],[-.45,-1.15],[-.38,-.9],[-.2,-.78],[-2.75,-3.45],[-2.6,-3.45],[-2.5,-3.38],[-2.58,-3.2],[-2.45,-3.2],[-2.38,-3.1],[-2.28,-3.05],[-2.01,-1.69],[-1.72,-1.79],[-2.14,-2.28],[-2.2,-2.78],[.43,-.22],[.22,-.19],[.12,-.25],[.14,-.39],[0,-.37],[-.21,-.44],[.02,-.57],[-.12,-.6],[-.28,-.61],[-.26,-.75],[-.4,-.73],[.05,-.75],[-.3,-.91],[-.44,-.99],[-.54,-.88],[-.35,-1.08],[-.54,-1.05],[-.81,-1.1],[-.63,-1.24],[-.68,-1.08],[-.91,-1.33],[-1.07,-1.43],[-.63,-1.67],[-.82,-1.85],[-.54,-1.55],[-1.34,-1.78],[-1.49,-1.84],[-1.17,-1.54],[-.98,-1.27],[-.79,-1.48],[-.75,-1.76],[-.86,-1.97],[-.96,-2.24],[-1.1,-2.41],[-.84,-2.08],[-.93,-1.7],[-1.59,-2.11],[-1.4,-2.71],[-1.21,-1.86],[-1.31,-1.97],[-1.12,-2.14],[-1.03,-1.92],[-2.33,-3.2],[-2.61,-3.17],[-2.42,-3.32],[-2.47,-3.47],[-2.56,-3.55],[-2.7,-3.52],[-2.68,-3.61],[-2.82,-3.34],[-2.75,-3.34],[-2.63,-3.32]];
const cNavy=[[-2.1,-2.85],[-2.05,-3],[-1.9,-2.75],[-1.75,-2.75],[-1.7,-2.9],[-1.85,-2.9],[-1.6,-2.6],[-1.5,-2.2],[-1.4,-2.2],[-1.9,-2.6],[-1.75,-2.6],[-1.2,-2],[-2.39,-2.97],[-2.25,-2.93],[-2.32,-3.09],[-2.16,-3.05],[-2.05,-2.74],[-2,-2.87],[-1.97,-2.93],[-1.91,-3.06],[-1.91,-2.49],[-1.82,-2.65],[-1.82,-3.01],[-1.8,-2.85],[-1.73,-2.46],[-1.68,-2.65],[-1.66,-2.95],[-1.63,-2.76],[-1.59,-2.3],[-1.54,-2.52],[-1.47,-2.02],[-1.35,-2.11],[-1.24,-2.55],[-1.19,-1.73],[-1.07,-1.67],[-.86,-1.65],[-.86,-1.51],[-.79,-1.48]];
const cPink=[[-1.5,-2.4],[-1.45,-2.35],[-1.3,-2.2],[-1.2,-2.2],[-1.35,-2.1],[-1.7,-2.4],[-1.55,-2.55],[-.62,-1.55],[-.97,-1.59],[-1.11,-1.78],[-1.08,-1.96],[-1.32,-2],[-1.2,-2.08],[-1.44,-2.21],[-1.81,-2.3],[-1.38,-2.25],[-1.26,-2.33],[-1.49,-2.3],[-1.6,-2.38],[-1.73,-2.46],[-1.54,-2.44],[-1.38,-2.41],[-1.63,-2.52],[-1.73,-2.57],[-1.38,-2.57],[-1.12,-2.71]];
const cdBlack=[[-3.74,-3.28],[-3.74,-3.58],[-3.65,-3.88],[-3.58,-4.13],[-3.44,-4.4],[-3.28,-4.51],[-3.08,-4.53],[-2.26,-4.48],[-1.04,-4.4],[-.27,-4.27],[.26,-4.13],[.42,-3.77],[.66,-3.06],[.99,-2.03],[1.52,-.53],[1.72,.1],[1.72,.86],[1.69,1.46],[1.48,1.35],[.99,.91],[-.96,-.83],[-1.63,-1.43],[-2.14,-1.89],[-2.83,-2.49],[-3.36,-2.98],[-3.54,-3.12],[-3.74,-3.28]];

const dCream=row([[-3.12,[-1.7,-1.55,-1.42,-1.3,-1.15,-1.02,-.9,-.78,-.65,-.52,-.4,-.28,-.15,-.02,.1,.22,.35,.47,.56]],[-3,[-1.5,-1.35,-1.2,-1.05,-.9,-.72,-.58,-.43,-.3,-.16,-.02,.12,.26,.4,.56]],[-2.83,[-1.3,-1.1,-.95,-.8,-.65,-.5,-.35,-.2,-.05,.1,.25,.4,.56]],[-2.65,[-.85,-.7,-.55,-.4,-.25,-.1,.05,.2,.35,.48,.56]],[-2.45,[-.8,-.62,-.48,-.32,-.18,-.02,.14,.28,.42,.56]],[-2.27,[-.62,-.45,-.3,-.15,0,.15,.3,.45,.56]],[-2.08,[-.55,-.4,-.25,-.1,.05,.2,.35,.5,.6,.7]],[-1.92,[-.45,-.3,-.15,0,.15,.3,.45,.6,.75,.9,1.05,1.2,1.32,1.42]],[-1.75,[-.35,-.2,-.05,.1,.25,.4,.55,.7,.85,1,1.15,1.28,1.41]],[-1.58,[-.3,-.13,.03,.18,.33,.48,.62,.78,.92,1.05,1.2,1.35,1.44]],[-1.42,[-.2,-.05,.1,.25,.4,.55,.7,.85,1,1.15,1.3,1.44]],[-1.25,[-.1,.05,.2,.35,.5,.65,.8,.95,1.1,1.25,1.42]],[-1.08,[0,.12,.28,.42,.6,.72,.88,1.07,1.2,1.35]],[-.92,[.02,.15,.3,.45,.64,.8,1.07,1.35]],[-.78,[.1,.28,.42,.6,.78,1.07,1.25]],[-.62,[.2,.45,.6,.8,1.1,1.2]],[-.45,[.28,.5,.72,.95,1.15]],[-.28,[.42,.55,.7,.85]],[-.1,[.48,.6,.75,1.03]]]);
const dCreamMore=row([[-3.06,[-1.62,-1.48,-1.36,-1.22,-1.08,-.96,-.84,-.7,-.58,-.46,-.34,-.22,-.08,.04,.16,.28,.41,.52]],[-2.92,[-1.4,-1.28,-1.12,-.98,-.82,-.66,-.5,-.36,-.22,-.1,.06,.2,.34,.48,.56]],[-2.74,[-1.02,-.88,-.72,-.58,-.44,-.28,-.12,.02,.18,.32,.44,.56]],[-2.55,[-.72,-.6,-.45,-.3,-.15,0,.12,.28,.42,.52]],[-2.36,[-.72,-.55,-.38,-.22,-.08,.08,.22,.36,.5]],[-2.18,[-.6,-.48,-.32,-.18,-.05,.1,.25,.38,.52,.62]],[-2,[-.5,-.35,-.2,-.05,.1,.25,.4,.55,.7,.85,.98,1.12,1.28,1.4]],[-1.83,[-.4,-.25,-.1,.05,.2,.35,.5,.65,.8,.95,1.1,1.25,1.38]],[-1.67,[-.32,-.15,0,.15,.3,.45,.6,.75,.9,1.05,1.2,1.35,1.44]],[-1.5,[-.25,-.1,.05,.2,.35,.5,.65,.8,.95,1.1,1.25,1.4]],[-1.33,[-.15,0,.15,.3,.45,.6,.75,.9,1.05,1.2,1.35,1.44]],[-1.16,[-.02,.1,.25,.4,.55,.68,.82,.98,1.12,1.28,1.4]],[-1,[.05,.2,.35,.5,.62,.78,1.05,1.3]],[-.85,[.12,.25,.38,.55,.7,1.1,1.32]],[-.7,[.2,.35,.5,.68,.85,1.15,1.25]],[-.54,[.25,.42,.55,.72,1.12,1.22]],[-.36,[.3,.45,.62,.78,.98]],[-.2,[.42,.52,.68,.92]],[0,[.5,.62,.78,.92,1.05,1.15]],[.12,[.45,.6,.72,.88,1.02,1.2,1.3]],[.24,[.55,.7,.85,1,1.15,1.3]],[.36,[.65,.78,.9,1.05,1.2,1.35]],[.5,[.78,.92,1.05,1.18,1.32,1.45]],[.65,[.92,1.08,1.2,1.32,1.46]],[.8,[1.05,1.18,1.3,1.42,1.54]],[.95,[1.2,1.32,1.45,1.58]],[1.1,[1.32,1.42,1.55,1.68]],[1.25,[1.5,1.6]]]);
const dCreamLone=[[1.64,1.05],[1.46,1.08],[1.52,1.18],[1.33,.98],[1.25,.92],[1.17,.83],[1.03,.67],[.95,.61],[.82,.45],[.64,.29],[.56,.2],[.4,0],[1.5,.67],[1.54,.78],[1.36,.65],[1.19,.37],[1.31,.15],[1.15,.04],[1.03,-.09],[.93,.18],[.66,-.01],[.38,.01],[.83,.1],[1.4,.9],[1.2,.6],[1.05,.42],[.85,.3],[1.3,.62],[.7,.12],[1.1,.2],[1.33,.38],[1.44,-.3]];
const dYellow=[[-3.5,-3.5],[-3.42,-3.35],[-3.28,-3.5],[-3.22,-3.6],[-3.1,-3.8],[-3,-3.6],[-2.9,-3.85],[-2.82,-3.55],[-2.68,-3.55],[-2.6,-3.62],[-2.45,-3.65],[-2.32,-3.5],[-2.1,-3.5],[-3.1,-3.38],[-3.05,-3.2],[-2.95,-3.1],[-2.8,-3.25],[-2.65,-3.2],[-2.55,-3.45],[-2.35,-3.3],[-1.9,-3.3],[-1.85,-3.2],[-1.7,-3.1],[-1.55,-2.95],[-1.5,-2.85],[-1.3,-2.75],[-1.2,-2.55],[-1.1,-2.45],[-.9,-2.35],[-3.18,-3.1],[-2.98,-2.85],[-2.75,-2.8],[-2.55,-2.55],[-2.38,-2.55],[-3.3,-3.35],[-3.35,-3.5],[-3.74,-3.52],[-3.2,-3.95],[-3.05,-3.92],[-3.02,-3.8],[-2.79,-3.85],[-3.25,-3.8],[-3.35,-3.75],[-3.4,-3.62],[-3.32,-3.61],[-3.15,-3.7],[-2.95,-3.7],[-2.85,-3.65],[-2.7,-3.7],[-2.55,-3.75],[-2.38,-3.75],[-2.28,-3.7],[-2.35,-3.61],[-3.54,-3.36],[-3.45,-3.45],[-3.34,-3.31],[-3.2,-3.45],[-3.12,-3.53],[-3,-3.45],[-2.93,-3.25],[-2.75,-3.4],[-2.63,-3.5],[-2.5,-3.55],[-2.39,-3.42],[-2.24,-3.46],[-2.15,-3.4],[-2,-3.3],[-1.96,-3.2],[-1.78,-3.28],[-1.85,-3.1],[-1.67,-2.9],[-1.44,-2.87],[-1.31,-2.6],[-1.4,-2.7],[-1.17,-2.38],[-1,-2.33],[-.74,-2.55],[-.62,-2.25],[-2.02,-3.93],[-3.25,-3.2],[-3.1,-3.1],[-3.04,-2.95],[-2.92,-2.95],[-2.81,-2.93],[-2.85,-3.1],[-2.7,-3.1],[-2.6,-3.3],[-2.67,-2.6],[-2.6,-2.75],[-2.43,-2.49],[-2.3,-2.41],[-2.45,-2.65],[-3.15,-3.25],[-2.5,-3.3],[-2.2,-3.3]];
const dBlue=col([[-2.63,[-3.12,-2.9]],[-2.55,[-3.1,-2.95]],[-2.47,[-3.12,-2.95,-2.78]],[-2.38,[-3.15,-2.98,-2.8]],[-2.26,[-3.23,-3.05,-2.88,-2.74]],[-2.16,[-3.15,-2.95,-2.75,-2.55]],[-2.1,[-3.05,-2.8,-2.55,-2.35,-2.19]],[-2,[-3,-2.78,-2.6,-2.4,-2.2]],[-1.9,[-2.9,-2.7,-2.5,-2.3,-2.1]],[-1.82,[-2.74,-2.55,-2.35,-2.15,-1.97]],[-1.7,[-2.7,-2.5,-2.3,-2.1,-1.92]],[-1.61,[-2.65,-2.45,-2.25,-2.1,-1.92]],[-1.53,[-2.57,-2.35,-2.15,-1.95,-1.75,-1.58]],[-1.4,[-2.5,-2.3,-2.1,-1.9,-1.72,-1.5]],[-1.25,[-2.35,-2.15,-1.95,-1.78,-1.6,-1.43]],[-1.15,[-2.3,-2.1,-1.9,-1.7,-1.5,-1.3]],[-1,[-2.2,-2,-1.8,-1.6,-1.42,-1.25,-1.05]],[-.88,[-2.44,-2.1,-1.9,-1.7,-1.5,-1.3,-1.1,-.95]],[-.8,[-2.11,-1.85,-1.65,-1.45,-1.25,-1.05,-.85]],[-.7,[-1.95,-1.7,-1.5,-1.3,-1.1,-.9,-.78]],[-.6,[-1.95,-1.57,-1.35,-1.15,-.95,-.72]],[-.5,[-1.5,-1.28,-1.05,-.85,-.62]],[-.39,[-1.35,-1.15,-.95,-.75,-.55]],[-.31,[-1.25,-1.05,-.85,-.65,-.45]],[-.2,[-1.3,-1,-.8,-.6,-.35]],[-.11,[-1.24,-.95,-.75,-.55,-.3]],[-.07,[-.5,-.18]],[.02,[-.9,-.62,-.4,-.15]],[.1,[-.72,-.5,-.25,-.02]],[.17,[-.67,-.4,-.15,.08]]]);
const dBlueMore=col([[-2.5,[-3.05,-2.88]],[-2.42,[-3.05,-2.88,-2.7]],[-2.32,[-3.1,-2.95,-2.8,-2.62]],[-2.2,[-3.1,-2.9,-2.7,-2.5,-2.35]],[-2.05,[-2.9,-2.68,-2.5,-2.3,-2.1]],[-1.95,[-2.85,-2.65,-2.45,-2.25,-2.05]],[-1.86,[-2.62,-2.42,-2.22,-2.02]],[-1.76,[-2.62,-2.4,-2.2,-2,-1.85]],[-1.65,[-2.58,-2.38,-2.18,-2,-1.8]],[-1.47,[-2.45,-2.25,-2.05,-1.85,-1.65,-1.5]],[-1.33,[-2.4,-2.2,-2,-1.8,-1.6,-1.4]],[-1.2,[-2.25,-2.05,-1.85,-1.65,-1.45,-1.3]],[-1.08,[-2.2,-2,-1.8,-1.6,-1.4,-1.2]],[-.94,[-2.05,-1.85,-1.65,-1.45,-1.25,-1.05]],[-.84,[-1.98,-1.78,-1.58,-1.38,-1.18,-.98]],[-.75,[-1.8,-1.6,-1.4,-1.2,-1,-.8]],[-.65,[-1.75,-1.45,-1.25,-1.05,-.85,-.7]],[-.55,[-1.45,-1.25,-1.05,-.85,-.65]],[-.45,[-1.25,-1.05,-.85,-.65,-.45]],[-.35,[-1.15,-.95,-.75,-.55,-.38]],[-.25,[-1.15,-.9,-.7,-.5,-.3]],[-.16,[-1.1,-.85,-.65,-.45,-.2]],[-.03,[-.95,-.7,-.5,-.28,-.08]],[.06,[-.62,-.4,-.2,.02]],[.14,[-.55,-.3,-.08,.1]],[.22,[.12]],[.26,[.2]],[.38,[-.61]],[.46,[-.01]],[.48,[.47]],[.58,[.47]],[.72,[.68]],[-1.17,[-2.33]],[-3.16,[-3.8]],[-2.88,[-3.51]],[-2.76,[-3.59]],[-2.71,[-3.28]],[-2.59,[-3.12]]]);
const dRed=[[-1.19,-1.865],[-1.04,-1.97],[-.68,-1.99],[-.27,-1.99],[.13,-1.99],[.6,-1.97],[.95,-1.94],[1.27,-1.865],[1.41,-1.78],[1.44,-1.32],[1.37,-.99],[1.29,-.75],[1.19,-.42],[.825,-.36],[.215,-.3],[.01,-.31],[-.27,-.61],[-.8,-1.18],[-1.09,-1.59],[-1.19,-1.865]];

const decades=[-4,-3,-2,-1,0,1];
const wTicks=[.2,.3,.4,.5,.6,.7,.8,.9,1];
const sources=["Simulations","Hereon","HYPERMAQ","M17","OC-CCI v3","C22","C2X","CCRR","L23"];
const C={gray:"#9a9a9a",orange:"#F9A21F",pink:"#F7B5CA",green:"#2DB14D",cyan:"#64CBDD",navy:"#2E50A8",cream:"#F5F3DF",blue:"#37B5EE",yellow:"#FBD50B"};
const sourceColors=[C.gray,C.orange,C.cyan,C.pink,C.navy,C.green,C.cream,C.blue,C.yellow];

const svg=d3.select("#c"), ink="#0c0c0c", axisInk="#333", gridC="#ECECEF";
const triPath=d3.symbol(d3.symbolTriangle,290)();
const legTri=d3.symbol(d3.symbolTriangle,230)();
function panel(o){
  const g=svg.append("g");
  const x=d3.scaleLog().domain([1e-4,10]).range(o.xr);
  const y=o.logY?d3.scaleLog().domain([1e-4,10]).range(o.yr):d3.scaleLinear().domain([.2,1]).range(o.yr);
  const [L,R,T,B]=o.box;
  const X=v=>x(10**v), Y=v=>o.logY?y(10**v):y(v);
  const yMaj=o.logY?decades:wTicks;
  g.selectAll(null).data(decades).join("line").attr("x1",X).attr("x2",X).attr("y1",T).attr("y2",B).attr("stroke",gridC).attr("stroke-width",5.5);
  g.selectAll(null).data(yMaj).join("line").attr("y1",Y).attr("y2",Y).attr("x1",L).attr("x2",R).attr("stroke",gridC).attr("stroke-width",5.5);
  const tk=g.append("g").attr("stroke",axisInk).attr("stroke-width",2);
  const lv=[];d3.range(-6,3).forEach(d=>[1,2,3,4,5,6,7,8,9].forEach(m=>lv.push({v:d+Math.log10(m),m})));
  const len=m=>m==1?33:m==5?20:10;
  const xs=lv.filter(t=>X(t.v)>=L&&X(t.v)<=R);
  tk.selectAll(null).data(xs).join("line").attr("x1",t=>X(t.v)).attr("x2",t=>X(t.v)).attr("y1",B).attr("y2",t=>B-len(t.m));
  tk.selectAll(null).data(xs).join("line").attr("x1",t=>X(t.v)).attr("x2",t=>X(t.v)).attr("y1",T).attr("y2",t=>T+len(t.m));
  if(o.logY){
    const ys=lv.filter(t=>Y(t.v)>=T&&Y(t.v)<=B);
    tk.selectAll(null).data(ys).join("line").attr("y1",t=>Y(t.v)).attr("y2",t=>Y(t.v)).attr("x1",L).attr("x2",t=>L+len(t.m));
    tk.selectAll(null).data(ys).join("line").attr("y1",t=>Y(t.v)).attr("y2",t=>Y(t.v)).attr("x1",R).attr("x2",t=>R-len(t.m));
  }
  g.append("rect").attr("x",L).attr("y",T).attr("width",R-L).attr("height",B-T).attr("fill","none").attr("stroke",axisInk).attr("stroke-width",2.5);
  g.selectAll(null).data(decades).join("line").attr("x1",X).attr("x2",X).attr("y1",B).attr("y2",B+14).attr("stroke",axisInk).attr("stroke-width",5);
  const lab=g.selectAll(null).data(decades).join("text").attr("x",X).attr("y",B+o.xLabDy).attr("text-anchor","middle").attr("font-size",38);
  lab.append("tspan").text("10");lab.append("tspan").attr("dy",-14).attr("font-size",27).text(d=>d);
  if(o.yLabels){
    g.selectAll(null).data(yMaj).join("line").attr("y1",Y).attr("y2",Y).attr("x1",L-14).attr("x2",L).attr("stroke",axisInk).attr("stroke-width",5);
    const yl=g.selectAll(null).data(yMaj).join("text").attr("x",o.logY?137:139).attr("y",d=>Y(d)+(o.logY?18:13)).attr("text-anchor","end").attr("font-size",38);
    if(o.logY){yl.append("tspan").text("10");yl.append("tspan").attr("dy",-14).attr("font-size",27).text(d=>d);}
    else yl.text(d=>d.toFixed(1));
  }
  for(const s of o.series){
    const sel=g.append("g").attr("stroke",ink).attr("stroke-width",3).attr("fill",s.color).selectAll(null).data(s.data);
    if(s.tri) sel.join("path").attr("d",triPath).attr("stroke-linejoin","miter").attr("transform",d=>`translate(${X(d[0])},${Y(d[1])})`);
    else sel.join("circle").attr("r",9.8).attr("cx",d=>X(d[0])).attr("cy",d=>Y(d[1]));
  }
  const line=d3.line().x(d=>X(d[0])).y(d=>Y(d[1]));
  for(const l of o.lines) g.append("path").attr("d",line(l.data)).attr("fill","none").attr("stroke",l.color).attr("stroke-width",l.w).attr("stroke-dasharray",l.dash);
  for(const t of (o.notes||[])) g.append("text").attr("x",t[1]).attr("y",t[2]).attr("text-anchor","end").attr("font-size",40).attr("font-weight","bold").text(t[0]);
  g.append("text").attr("x",o.letter[1]).attr("y",o.letter[2]).style("font-family","'Liberation Sans'").attr("font-weight","bold").attr("font-size",23).text(o.letter[0]);
}
const blackDash={w:5.5,color:"#0a0a0a",dash:"27 27"}, redDash={w:6,color:"#EE2E2E",dash:"27 26"};
panel({box:[167,985,35,637],xr:[201,858],yr:[611,61],xLabDy:64,yLabels:true,letter:["A",9,26],
  series:[{data:aGray.concat(aGrayMore),color:C.gray},{data:aTri,color:C.gray,tri:1},{data:aOrange,color:C.orange},{data:aPink,color:C.pink},{data:aGreen,color:C.green},{data:aCyan,color:C.cyan}],
  lines:[{data:abLower,...blackDash}]});
panel({box:[1046,1865,35,637],xr:[1080,1737],yr:[611,61],xLabDy:64,letter:["B",1008,26],
  series:[{data:bCream.concat(bCreamMore,bCreamLone),color:C.cream},{data:bYellow,color:C.yellow,tri:1},{data:bBlue,color:C.blue}],
  lines:[{data:abLower,...blackDash},{data:bRed,...redDash}],notes:[["Simulations",1303,227],["by this study",1302,273]]});
panel({box:[167,985,857,1459],xr:[167,851],yr:[1383,926],logY:true,xLabDy:62,yLabels:true,letter:["C",9,832],
  series:[{data:cGray.concat(cGrayMore),color:C.gray},{data:cTri,color:C.gray,tri:1},{data:cOrange,color:C.orange},{data:cNavy,color:C.navy},{data:cPink,color:C.pink}],
  lines:[{data:cdBlack,...blackDash}]});
panel({box:[1046,1865,857,1459],xr:[1046,1730],yr:[1383,926],logY:true,xLabDy:62,letter:["D",1010,832],
  series:[{data:dCream.concat(dCreamMore,dCreamLone),color:C.cream},{data:dYellow,color:C.yellow,tri:1},{data:dBlue.concat(dBlueMore),color:C.blue}],
  lines:[{data:cdBlack,...blackDash},{data:dRed,...redDash}],notes:[["Simulations",1593,1347],["by this study",1592,1394]]});

function title(x,y,rot,parts,fs){
  const t=svg.append("text").attr("font-size",fs).attr("text-anchor","middle").attr("transform",`translate(${x},${y})`+(rot?" rotate(-90)":""));
  for(const [s,st,dy] of parts){const sp=t.append("tspan").text(s);
    if(st=="i"||st=="si")sp.attr("font-style","italic");
    if(st=="s"||st=="si")sp.attr("font-size",fs*.7);
    if(dy)sp.attr("dy",dy);}
}
const tail=[["(m",""],["-1","s",-13],[")","",13]];
title(1015,756,0,[["a","i"],["p","si",8],["(560) ","",-8],...tail],41);
title(1015,1574,0,[["a","i"],["gp","si",8],["(560) ","",-8],...tail],41);
title(40,334,1,[["ω",""],["p","si",8],["(560)","",-8]],42);
title(41,1160,1,[["b","i"],[" bp","si",8],["(560) ","",-8],...tail],39);

const leg=svg.append("g");
const lgX=[[621,649],[621,649],[867,895],[867,895],[1146,1174],[1146,1174],[1388,1414],[1388,1414],[1548,1574]];
const lgY=[1640,1675];
sources.forEach((s,i)=>{
  const r=i==8?0:i%2;
  leg.append("circle").attr("cx",lgX[i][0]).attr("cy",lgY[r]).attr("r",9.5).attr("fill",sourceColors[i]).attr("stroke",ink).attr("stroke-width",3);
  leg.append("text").attr("x",lgX[i][1]).attr("y",lgY[r]+13).attr("font-size",39.5).text(s);
});
const lt=(s,x,y)=>leg.append("text").attr("x",x).attr("y",y).attr("font-size",39.5).text(s);
lt("Data source:",393,1671);lt("Simulation model type:",611,1735);lt("Four-term",1042,1735);lt("Two-term",1260,1735);
leg.append("circle").attr("cx",1019).attr("cy",1723).attr("r",8).attr("fill","#fff").attr("stroke",ink).attr("stroke-width",2.6);
leg.append("path").attr("d",legTri).attr("transform","translate(1233,1720)").attr("fill","#fff").attr("stroke",ink).attr("stroke-width",2.4);
</script></body></html>
